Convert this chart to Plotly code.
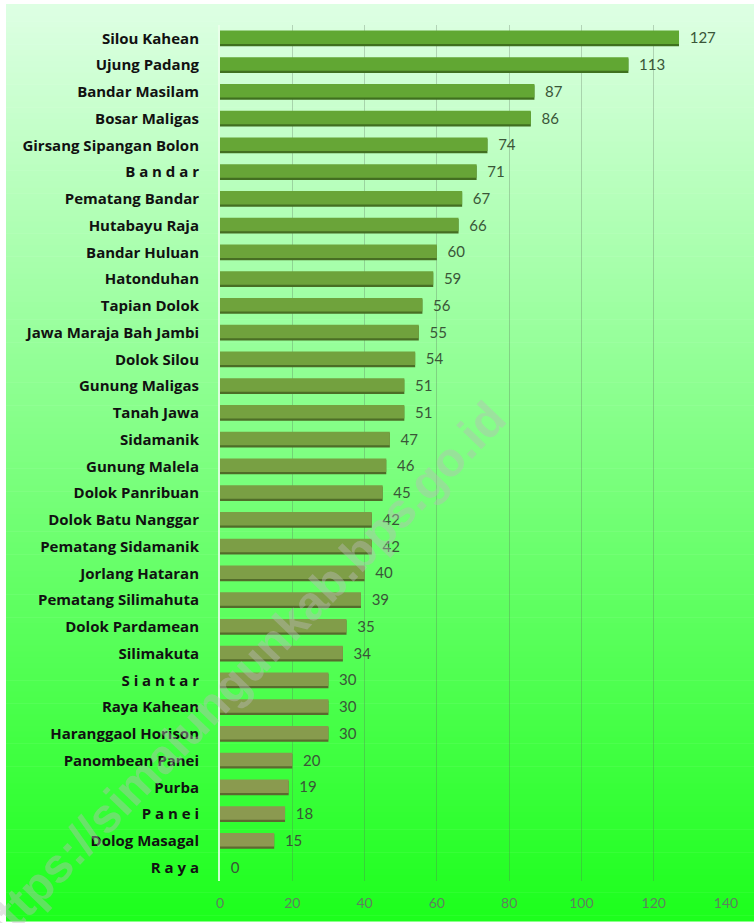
import plotly.graph_objects as go

categories = [
    "Silou Kahean", "Ujung Padang", "Bandar Masilam", "Bosar Maligas",
    "Girsang Sipangan Bolon", "B a n d a r", "Pematang Bandar", "Hutabayu Raja",
    "Bandar Huluan", "Hatonduhan", "Tapian Dolok", "Jawa Maraja Bah Jambi",
    "Dolok Silou", "Gunung Maligas", "Tanah Jawa", "Sidamanik", "Gunung Malela",
    "Dolok Panribuan", "Dolok Batu Nanggar", "Pematang Sidamanik", "Jorlang Hataran",
    "Pematang Silimahuta", "Dolok Pardamean", "Silimakuta", "S i a n t a r",
    "Raya Kahean", "Haranggaol Horison", "Panombean Panei", "Purba", "P a n e i",
    "Dolog Masagal", "R a y a",
]
values = [127, 113, 87, 86, 74, 71, 67, 66, 60, 59, 56, 55, 54, 51, 51, 47, 46,
          45, 42, 42, 40, 39, 35, 34, 30, 30, 30, 20, 19, 18, 15, 0]
x_ticks = [0, 20, 40, 60, 80, 100, 120, 140]
watermark = "https://simalungunkab.bps.go.id"

W, H = 754, 923
ML, MR, MT, MB = 220, 28, 25, 40
PW, PH = W - ML - MR, H - MT - MB


def px_to_paper_x(px):
    return (px - ML) / PW


def px_to_paper_y(py):
    return (H - MB - py) / PH


def lerp(c1, c2, t):
    return tuple(round(a + (b - a) * t) for a, b in zip(c1, c2))


n = len(categories)
top_bar, bot_bar = (96, 168, 50), (142, 152, 82)
bar_colors = ["rgb(%d,%d,%d)" % lerp(top_bar, bot_bar, i / (n - 1)) for i in range(n)]
shadow_colors = ["rgb(%d,%d,%d)" % lerp((62, 112, 30), (95, 105, 50), i / (n - 1)) for i in range(n)]

fig = go.Figure()
# shadow under each bar
fig.add_trace(go.Bar(
    x=values, y=categories, orientation="h",
    width=0.54, offset=-0.25,
    marker=dict(color=shadow_colors, line=dict(width=0)),
    hoverinfo="skip", showlegend=False,
))
fig.add_trace(go.Bar(
    x=values, y=categories, orientation="h",
    width=0.5, offset=-0.29,
    marker=dict(color=bar_colors, line=dict(width=0)),
    text=values, texttemplate="\u00a0\u00a0%{x}", textposition="outside",
    cliponaxis=False, constraintext="none",
    textfont=dict(family="Lato, Open Sans, sans-serif", size=15, color="#3a5638"),
    showlegend=False,
))

# gradient background (horizontal stripes)
shapes = []
top_c, bot_c = (222, 255, 228), (28, 255, 28)
N = 160
y_start, y_end = 4, H
x_start = 6
for i in range(N):
    y0 = y_start + (y_end - y_start) * i / N
    y1 = y_start + (y_end - y_start) * (i + 1) / N + 0.6
    c = lerp(top_c, bot_c, (i + 0.5) / N)
    shapes.append(dict(
        type="rect", xref="paper", yref="paper", layer="below",
        x0=px_to_paper_x(x_start), x1=px_to_paper_x(W),
        y0=px_to_paper_y(y1), y1=px_to_paper_y(y0),
        fillcolor="rgb(%d,%d,%d)" % c, line=dict(width=0),
    ))

fig.update_layout(
    width=W, height=H,
    margin=dict(l=ML, r=MR, t=MT, b=MB, pad=0),
    paper_bgcolor="white",
    plot_bgcolor="rgba(0,0,0,0)",
    barmode="overlay",
    shapes=shapes,
    xaxis=dict(
        range=[0, 140], tickvals=x_ticks, ticktext=[str(t) for t in x_ticks],
        showgrid=True, gridcolor="rgba(90,110,90,0.3)", gridwidth=1,
        zeroline=False, showline=False,
        tickfont=dict(family="Lato, Open Sans, sans-serif", size=14, color="#5f7f5f"),
        ticklabelstandoff=12,
    ),
    yaxis=dict(
        autorange="reversed", showgrid=False, zeroline=False,
        showline=True, linecolor="rgba(235,255,235,0.85)", linewidth=2,
        tickfont=dict(family="Open Sans, Lato, sans-serif", size=15, color="#111111", weight="bold"),
        ticklabelstandoff=16,
    ),
    annotations=[dict(
        text=watermark, xref="paper", yref="paper",
        x=px_to_paper_x(240), y=px_to_paper_y(677),
        xanchor="center", yanchor="middle", textangle=-46, showarrow=False,
        font=dict(family="Liberation Sans, Arial, sans-serif", size=48,
                  color="rgba(185,185,185,0.42)", weight="bold"),
    )],
)

fig.write_html(
    "out.html",
    config={"displayModeBar": False},
    post_script="document.body.style.margin='0';document.body.style.overflow='hidden';",
)
